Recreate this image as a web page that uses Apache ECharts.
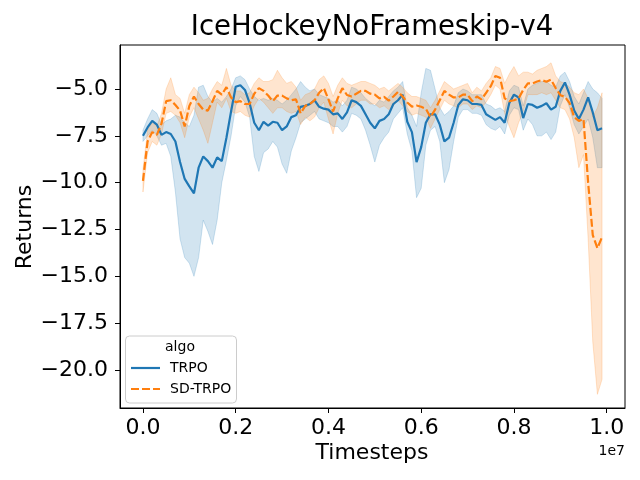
<!DOCTYPE html>
<html><head><meta charset="utf-8">
<script src="https://cdn.jsdelivr.net/npm/echarts@6/dist/echarts.min.js"></script>
<style>html,body{margin:0;padding:0;background:#fff}#c{width:640px;height:480px}</style>
</head><body><div id="c"></div>
<script>
const timesteps = [0,100000,200000,300000,400000,500000,600000,700000,800000,900000,
1000000,1100000,1200000,1300000,1400000,1500000,1600000,1700000,1800000,1900000,
2000000,2100000,2200000,2300000,2400000,2500000,2600000,2700000,2800000,2900000,
3000000,3100000,3200000,3300000,3400000,3500000,3600000,3700000,3800000,3900000,
4000000,4100000,4200000,4300000,4400000,4500000,4600000,4700000,4800000,4900000,
5000000,5100000,5200000,5300000,5400000,5500000,5600000,5700000,5800000,5900000,
6000000,6100000,6200000,6300000,6400000,6500000,6600000,6700000,6800000,6900000,
7000000,7100000,7200000,7300000,7400000,7500000,7600000,7700000,7800000,7900000,
8000000,8100000,8200000,8300000,8400000,8500000,8600000,8700000,8800000,8900000,
9000000,9100000,9200000,9300000,9400000,9500000,9600000,9700000,9800000,9900000];

const trpoMean = [-7.5,-7.05,-6.7,-6.9,-7.45,-7.3,-7.4,-7.8,-8.9,-9.8,
-10.2,-10.57,-9.2,-8.6,-8.85,-9.2,-8.65,-8.85,-7.6,-6.2,
-4.88,-4.8,-5.05,-5.75,-6.8,-7.2,-6.75,-6.95,-6.75,-6.8,
-7.2,-7.0,-6.5,-6.4,-5.95,-5.9,-5.8,-5.6,-5.95,-6.05,
-6.1,-6.35,-6.3,-6.6,-6.25,-5.6,-5.7,-5.9,-6.35,-6.8,
-7.1,-6.7,-6.6,-6.35,-5.8,-5.6,-5.3,-6.75,-7.3,-8.9,
-8.1,-6.8,-6.35,-6.35,-6.9,-7.8,-7.6,-6.8,-5.85,-5.55,
-5.6,-5.8,-5.8,-5.85,-6.35,-6.5,-6.65,-6.5,-6.8,-5.75,
-5.3,-5.45,-6.55,-5.8,-5.85,-6.0,-5.9,-5.76,-6.1,-5.95,
-5.1,-4.65,-5.3,-6.15,-6.6,-6.1,-5.45,-6.25,-7.2,-7.1];

const trpoLow = [-7.8,-7.5,-7.2,-7.5,-8.0,-7.9,-8.6,-10.5,-13.0,-14.0,
-14.3,-15.0,-14.0,-12.0,-12.6,-13.3,-12.0,-10.0,-8.8,-7.5,
-5.9,-5.4,-5.7,-6.5,-8.6,-9.4,-8.4,-8.2,-7.8,-8.1,
-9.0,-9.5,-8.3,-7.6,-6.8,-6.6,-6.4,-6.2,-6.6,-6.7,
-6.8,-7.0,-7.0,-7.3,-7.0,-6.3,-6.4,-6.6,-7.2,-8.0,
-8.9,-8.0,-7.6,-7.3,-6.6,-6.3,-6.0,-7.4,-8.3,-10.8,
-10.3,-8.0,-7.2,-7.0,-7.8,-10.0,-9.3,-7.8,-6.5,-6.1,
-6.1,-6.3,-6.3,-6.4,-6.9,-7.1,-7.2,-7.0,-7.4,-6.4,
-6.0,-6.1,-7.2,-6.6,-6.9,-7.5,-7.5,-7.3,-7.7,-7.3,
-5.9,-5.3,-6.0,-6.9,-7.4,-7.0,-6.6,-7.6,-9.2,-9.2];

const trpoHigh = [-7.2,-6.6,-6.1,-6.3,-6.9,-6.7,-6.6,-6.4,-6.5,-6.8,
-7.0,-6.4,-4.9,-4.8,-5.4,-5.7,-5.5,-5.7,-5.4,-5.0,
-4.4,-4.3,-4.5,-5.0,-5.4,-5.6,-5.5,-5.6,-5.5,-5.6,
-5.8,-5.6,-5.3,-5.0,-4.6,-4.9,-5.1,-5.0,-5.3,-5.4,
-5.5,-5.7,-5.6,-5.9,-5.6,-4.9,-5.0,-5.2,-5.5,-5.7,
-5.9,-5.6,-5.7,-5.4,-5.1,-4.9,-4.6,-6.0,-6.4,-7.0,
-5.2,-3.9,-4.0,-5.0,-6.0,-6.4,-6.2,-5.9,-5.2,-5.0,
-5.1,-5.3,-5.3,-5.3,-5.8,-5.9,-6.1,-6.0,-6.2,-5.1,
-4.8,-4.9,-5.9,-5.0,-4.8,-4.7,-4.6,-4.6,-4.8,-4.9,
-4.3,-4.1,-4.6,-5.4,-5.8,-5.2,-4.6,-5.0,-5.2,-5.5];

const sdMean = [-9.9,-7.8,-7.3,-7.45,-6.85,-5.65,-5.6,-5.85,-6.15,-7.0,
-5.9,-5.4,-5.8,-6.1,-6.15,-5.65,-5.1,-5.3,-4.9,-5.45,
-5.7,-5.65,-5.8,-5.8,-5.25,-4.95,-5.1,-5.35,-5.65,-5.35,
-5.35,-5.5,-5.6,-5.55,-6.3,-5.9,-5.8,-5.6,-5.2,-4.95,
-5.55,-6.2,-5.5,-4.95,-5.32,-5.4,-5.25,-5.1,-5.1,-5.25,
-5.3,-5.5,-5.42,-5.62,-5.4,-5.15,-5.4,-5.72,-5.94,-5.88,
-5.95,-6.05,-6.5,-6.1,-5.6,-5.1,-5.3,-5.45,-5.45,-5.3,
-5.3,-5.65,-5.4,-5.55,-5.2,-4.85,-4.3,-4.4,-5.5,-5.65,
-5.6,-5.5,-5.05,-4.7,-4.7,-4.6,-4.52,-4.61,-4.5,-4.95,
-5.33,-5.42,-5.75,-6.5,-6.7,-6.6,-10.0,-12.8,-13.5,-12.9];

const sdLow = [-10.5,-8.4,-7.8,-8.0,-7.4,-6.3,-6.2,-6.4,-6.8,-7.6,
-6.5,-6.0,-6.6,-7.2,-7.9,-6.8,-5.7,-6.0,-5.5,-6.2,
-6.3,-6.2,-6.4,-6.5,-5.9,-5.5,-5.7,-6.0,-6.3,-6.0,
-6.0,-6.2,-6.3,-6.2,-6.9,-6.5,-6.7,-6.5,-6.0,-5.7,
-6.6,-7.4,-6.3,-5.6,-5.9,-6.0,-5.8,-5.6,-5.6,-5.8,
-5.8,-6.0,-5.9,-6.1,-5.9,-5.6,-5.9,-6.2,-6.4,-6.3,
-6.4,-6.5,-7.1,-6.6,-6.1,-5.6,-5.8,-5.9,-6.0,-5.8,
-5.8,-6.1,-5.9,-6.0,-5.7,-5.3,-4.8,-5.0,-6.3,-7.0,
-7.6,-6.8,-6.2,-5.3,-5.3,-5.3,-5.2,-5.3,-5.2,-5.6,
-6.0,-6.1,-6.6,-7.6,-9.2,-8.5,-13.0,-18.5,-21.3,-20.5];

const sdHigh = [-9.3,-7.2,-6.8,-7.0,-6.3,-5.0,-4.4,-5.3,-5.5,-6.3,
-5.3,-4.9,-5.2,-5.6,-5.5,-5.0,-4.6,-4.8,-3.9,-4.8,
-5.1,-5.1,-5.3,-5.2,-4.7,-4.4,-4.6,-4.6,-4.5,-4.0,
-4.4,-4.7,-4.6,-4.9,-5.6,-5.3,-5.2,-5.0,-4.5,-4.3,
-4.7,-5.4,-4.8,-4.4,-4.7,-4.8,-4.7,-4.6,-4.6,-4.7,
-4.8,-5.0,-4.9,-5.1,-4.9,-4.7,-4.9,-5.2,-5.4,-5.4,
-5.5,-5.6,-6.0,-5.6,-5.1,-4.6,-4.8,-5.0,-4.9,-4.8,
-4.7,-5.2,-4.9,-5.1,-4.7,-4.4,-3.8,-3.9,-4.7,-4.2,
-3.8,-4.3,-4.1,-4.1,-4.2,-4.0,-3.9,-3.8,-3.6,-4.3,
-4.6,-4.7,-4.9,-5.2,-5.3,-5.0,-5.5,-6.5,-6.0,-5.2];

const xTicks = [0, 2000000, 4000000, 6000000, 8000000, 10000000];
const yTicks = [-20, -17.5, -15, -12.5, -10, -7.5, -5];

const FONT = 'DejaVu Sans';
const BLUE = '#1f77b4', ORANGE = '#ff7f0e';
const pairs = ys => timesteps.map((t, i) => [t, ys[i]]);
const minus = s => s.replace('-', '\u2212');

const chart = echarts.init(document.getElementById('c'), null, {renderer: 'canvas'});

function band(name, lo, hi, color) {
  return {
    name, type: 'custom', silent: true, z: 1, clip: true,
    data: [[timesteps[0], lo[0]]],
    encode: {x: 0, y: 1},
    renderItem: function (params, api) {
      const pts = [];
      for (let i = 0; i < timesteps.length; i++) pts.push(api.coord([timesteps[i], hi[i]]));
      for (let i = timesteps.length - 1; i >= 0; i--) pts.push(api.coord([timesteps[i], lo[i]]));
      return {type: 'polygon', shape: {points: pts},
              style: {fill: color, stroke: color, lineWidth: 1}};
    }
  };
}

chart.setOption({
  animation: false,
  grid: {left: 120, right: 15, top: 45, bottom: 72, show: true, borderColor: '#000', borderWidth: 1,
         backgroundColor: 'transparent', containLabel: false, outerBoundsMode: 'none'},
  xAxis: {
    type: 'value', min: -495000, max: 10395000,
    splitLine: {show: false},
    axisLine: {show: true, onZero: false, lineStyle: {color: '#000', width: 1}},
    axisTick: {show: true, length: 5, lineStyle: {color: '#000'}, customValues: xTicks},
    axisLabel: {customValues: xTicks, formatter: v => (v / 1e7).toFixed(1), fontSize: 22,
                fontFamily: FONT, color: '#000', margin: 9}
  },
  yAxis: {
    type: 'value', min: -22.03, max: -2.65,
    splitLine: {show: false},
    axisLine: {show: true, onZero: false, lineStyle: {color: '#000', width: 1}},
    axisTick: {show: true, length: 5, lineStyle: {color: '#000'}, customValues: yTicks},
    axisLabel: {customValues: yTicks, formatter: v => minus(v.toFixed(1)), fontSize: 22,
                fontFamily: FONT, color: '#000', margin: 12}
  },
  graphic: [
    {type: 'rect', z: 10, shape: {x: 125.5, y: 336, width: 111, height: 67, r: 4},
     style: {fill: 'rgba(255,255,255,0.8)', stroke: '#cccccc', lineWidth: 1}},
    {type: 'text', z: 11, style: {text: 'algo', x: 180, y: 347, align: 'center', verticalAlign: 'middle',
     fontSize: 14, fontFamily: FONT, fill: '#000'}},
    {type: 'line', z: 11, shape: {x1: 131, y1: 368, x2: 160, y2: 368},
     style: {stroke: BLUE, lineWidth: 2.2}},
    {type: 'text', z: 11, style: {text: 'TRPO', x: 170, y: 368, align: 'left', verticalAlign: 'middle',
     fontSize: 14, fontFamily: FONT, fill: '#000'}},
    {type: 'line', z: 11, shape: {x1: 131, y1: 389, x2: 160, y2: 389},
     style: {stroke: ORANGE, lineWidth: 2.2, lineDash: [8, 3]}},
    {type: 'text', z: 11, style: {text: 'SD-TRPO', x: 170, y: 389, align: 'left', verticalAlign: 'middle',
     fontSize: 14, fontFamily: FONT, fill: '#000'}},
    {type: 'text', style: {text: 'IceHockeyNoFrameskip-v4', x: 372, y: 28, align: 'center',
     verticalAlign: 'middle', fontSize: 27.5, fontFamily: FONT, fill: '#000'}},
    {type: 'text', style: {text: 'Timesteps', x: 372, y: 453, align: 'center',
     verticalAlign: 'middle', fontSize: 22, fontFamily: FONT, fill: '#000'}},
    {type: 'text', style: {text: '1e7', x: 625, y: 451, align: 'right',
     verticalAlign: 'middle', fontSize: 14, fontFamily: FONT, fill: '#000'}},
    {type: 'text', rotation: Math.PI / 2, x: 25, y: 227,
     style: {text: 'Returns', x: 0, y: 0, align: 'center', verticalAlign: 'middle',
     fontSize: 22, fontFamily: FONT, fill: '#000'}}
  ],
  series: [
    band('TRPO band', trpoLow, trpoHigh, 'rgba(31,119,180,0.2)'),
    band('SD-TRPO band', sdLow, sdHigh, 'rgba(255,127,14,0.2)'),
    {name: 'TRPO', type: 'line', data: pairs(trpoMean), symbol: 'none', z: 3, silent: true,
     color: BLUE, lineStyle: {color: BLUE, width: 2.2}},
    {name: 'SD-TRPO', type: 'line', data: pairs(sdMean), symbol: 'none', z: 3, silent: true,
     color: ORANGE, lineStyle: {color: ORANGE, width: 2.2, type: [8, 3]}}
  ]
});
</script></body></html>
